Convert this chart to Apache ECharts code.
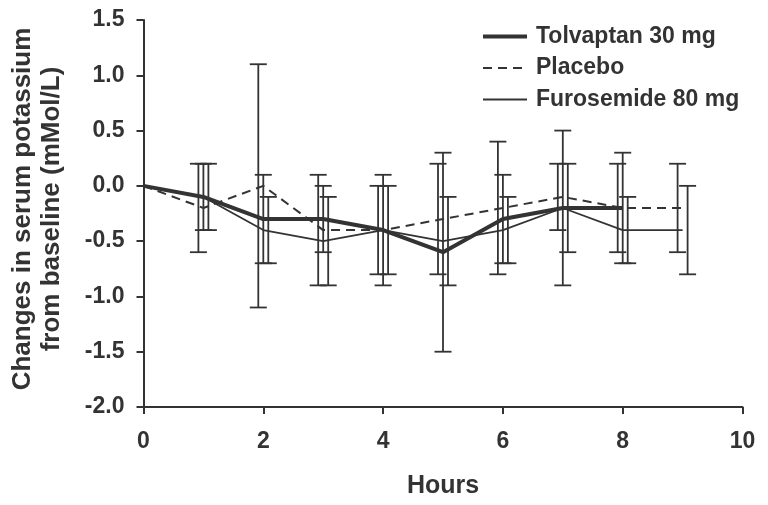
<!DOCTYPE html>
<html>
<head>
<meta charset="utf-8">
<script src="https://cdn.jsdelivr.net/npm/echarts@6/dist/echarts.min.js"></script>
<style>
html,body{margin:0;padding:0;background:#fff;}
#c{width:768px;height:505px;}
</style>
</head>
<body>
<div id="c"></div>
<script>
// ---- data ----
var hours = [0, 1, 2, 3, 4, 5, 6, 7, 8, 9];
var tolvaptanMean = [0, -0.1, -0.3, -0.3, -0.4, -0.6, -0.3, -0.2, -0.2];
var tolvaptanSD   = [null, 0.3, 0.4, 0.3, 0.5, 0.9, 0.4, 0.7, 0.5];
var placeboMean   = [0, -0.2, 0.0, -0.4, -0.4, -0.3, -0.2, -0.1, -0.2, -0.2];
var placeboSD     = [null, 0.4, 1.1, 0.5, 0.4, 0.5, 0.6, 0.3, 0.4, 0.4];
var furosemideMean = [0, -0.1, -0.4, -0.5, -0.4, -0.5, -0.4, -0.2, -0.4, -0.4];
var furosemideSD   = [null, 0.3, 0.3, 0.4, 0.4, 0.4, 0.3, 0.4, 0.3, 0.4];
var seriesNames = ['Tolvaptan 30 mg', 'Placebo', 'Furosemide 80 mg'];
var yTicks = [-2.0, -1.5, -1.0, -0.5, 0.0, 0.5, 1.0, 1.5];
var xTicks = [0, 2, 4, 6, 8, 10];

var INK = '#333333';
var FONT = '"Liberation Sans", Arial, Helvetica, sans-serif';

var STY = {
  tolv: { color: INK, width: 4, type: 'solid' },
  plac: { color: INK, width: 2, type: [9, 6] },
  furo: { color: INK, width: 1.8, type: 'solid' }
};

function linePts(mean) {
  return mean.map(function (v, i) { return [hours[i], v]; });
}
function errPts(mean, sd) {
  var out = [];
  mean.forEach(function (v, i) {
    if (sd[i] != null) out.push([hours[i], v - sd[i], v + sd[i]]);
  });
  return out;
}
function errSeries(name, mean, sd, dx) {
  return {
    type: 'custom',
    name: name,
    data: errPts(mean, sd),
    encode: { x: 0, y: [1, 2] },
    z: 2,
    silent: true,
    renderItem: function (params, api) {
      var x = api.value(0);
      var top = api.coord([x, api.value(2)]);
      var bot = api.coord([x, api.value(1)]);
      var cx = top[0] + dx;
      var hw = 8.5;
      var st = { stroke: INK, lineWidth: 1.8 };
      return {
        type: 'group',
        children: [
          { type: 'line', shape: { x1: cx, y1: top[1], x2: cx, y2: bot[1] }, style: st },
          { type: 'line', shape: { x1: cx - hw, y1: top[1], x2: cx + hw, y2: top[1] }, style: st },
          { type: 'line', shape: { x1: cx - hw, y1: bot[1], x2: cx + hw, y2: bot[1] }, style: st }
        ]
      };
    }
  };
}

var hideSym = { color: 'transparent', borderWidth: 0, opacity: 0 };

var chart = echarts.init(document.getElementById('c'), null, { renderer: 'canvas' });
chart.setOption({
  animation: false,
  backgroundColor: '#ffffff',
  textStyle: { fontFamily: FONT },
  grid: { left: 143.5, right: 25.5, top: 20, bottom: 98, containLabel: false },
  legend: {
    data: [
      { name: seriesNames[0], itemStyle: hideSym, lineStyle: STY.tolv },
      { name: seriesNames[1], itemStyle: hideSym, lineStyle: STY.plac },
      { name: seriesNames[2], itemStyle: hideSym, lineStyle: STY.furo }
    ],
    orient: 'vertical',
    left: 476,
    top: 20,
    itemWidth: 44,
    itemHeight: 14,
    itemGap: 8.5,
    itemStyle: hideSym,
    textStyle: { fontFamily: FONT, fontSize: 23, fontWeight: 'bold', color: INK, lineHeight: 23, padding: [0, 0, 0, 4] }
  },
  xAxis: {
    type: 'value',
    min: xTicks[0],
    max: xTicks[xTicks.length - 1],
    interval: 2,
    name: 'Hours',
    nameLocation: 'middle',
    nameGap: 67,
    nameTextStyle: { fontFamily: FONT, fontSize: 25, fontWeight: 'bold', color: INK },
    axisLine: { onZero: false, lineStyle: { color: INK, width: 2 } },
    axisTick: { show: true, inside: false, length: 7, lineStyle: { color: INK, width: 2 } },
    axisLabel: { fontFamily: FONT, fontSize: 23, fontWeight: 'bold', color: INK, margin: 23 },
    splitLine: { show: false }
  },
  yAxis: {
    type: 'value',
    min: yTicks[0],
    max: yTicks[yTicks.length - 1],
    interval: 0.5,
    axisLine: { show: true, lineStyle: { color: INK, width: 2 } },
    axisTick: { show: true, inside: false, length: 7, lineStyle: { color: INK, width: 2 } },
    axisLabel: {
      fontFamily: FONT, fontSize: 23, fontWeight: 'bold', color: INK, margin: 19,
      formatter: function (v) { return v.toFixed(1); }
    },
    splitLine: { show: false }
  },
  graphic: [{
    type: 'text',
    x: 37.5,
    y: 209,
    rotation: Math.PI / 2,
    style: {
      text: 'Changes in serum potassium\nfrom baseline (mMol/L)',
      font: 'bold 26px ' + FONT,
      fill: INK,
      textAlign: 'center',
      textVerticalAlign: 'middle',
      lineHeight: 29
    }
  }],
  series: [
    errSeries('errP', placeboMean, placeboSD, -5),
    errSeries('errT', tolvaptanMean, tolvaptanSD, 0),
    errSeries('errF', furosemideMean, furosemideSD, 5),
    {
      type: 'line', name: seriesNames[1], data: linePts(placeboMean),
      symbol: 'none', z: 3, lineStyle: STY.plac, itemStyle: { color: INK }
    },
    {
      type: 'line', name: seriesNames[2], data: linePts(furosemideMean),
      symbol: 'none', z: 3, lineStyle: STY.furo, itemStyle: { color: INK }
    },
    {
      type: 'line', name: seriesNames[0], data: linePts(tolvaptanMean),
      symbol: 'none', z: 4, lineStyle: STY.tolv, itemStyle: { color: INK }
    }
  ]
});
</script>
</body>
</html>
